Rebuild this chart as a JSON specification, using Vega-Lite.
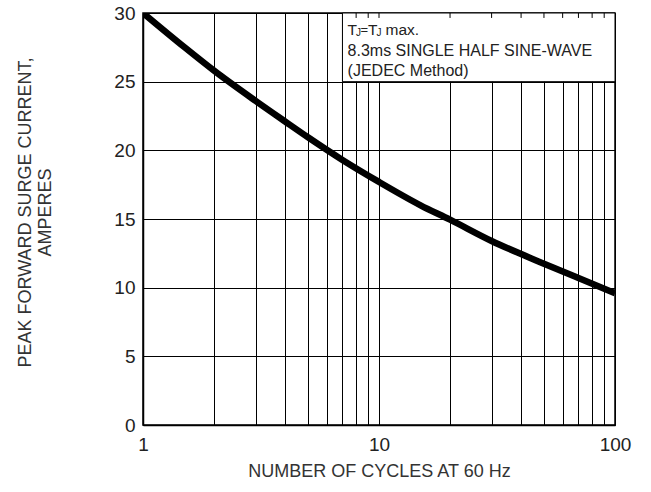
{
  "$schema": "https://vega.github.io/schema/vega-lite/v6.json",
  "width": 472,
  "height": 412,
  "autosize": {"type": "none"},
  "padding": {"left": 143, "top": 13, "right": 36, "bottom": 67},
  "background": "white",
  "config": {
    "font": "Liberation Sans",
    "view": {"stroke": "black", "strokeWidth": 1.5},
    "axis": {
      "domainColor": "black",
      "domainWidth": 1.5,
      "gridColor": "black",
      "gridWidth": 1,
      "gridOpacity": 1,
      "ticks": false,
      "labelFont": "Liberation Sans",
      "labelFontSize": 19,
      "labelColor": "#222",
      "titleFont": "Liberation Sans",
      "titleFontSize": 18,
      "titleFontWeight": "normal",
      "titleColor": "#333"
    }
  },
  "datasets": {
    "curve": [
      {"cycles": 1, "amps": 30},
      {"cycles": 1.5, "amps": 27.5},
      {"cycles": 2, "amps": 25.8},
      {"cycles": 3, "amps": 23.6},
      {"cycles": 4, "amps": 22.1},
      {"cycles": 5, "amps": 20.95},
      {"cycles": 7, "amps": 19.3},
      {"cycles": 10, "amps": 17.7},
      {"cycles": 15, "amps": 16.0},
      {"cycles": 20, "amps": 14.95},
      {"cycles": 30, "amps": 13.4},
      {"cycles": 50, "amps": 11.75},
      {"cycles": 70, "amps": 10.7},
      {"cycles": 100, "amps": 9.6}
    ],
    "box": [{"x1": 7, "x2": 100, "y1": 25, "y2": 30}],
    "boxticks": [
      {"x": 8, "y1": 29.64, "y2": 30}, {"x": 9, "y1": 29.64, "y2": 30}, {"x": 10, "y1": 29.64, "y2": 30},
      {"x": 20, "y1": 29.64, "y2": 30}, {"x": 30, "y1": 29.64, "y2": 30}, {"x": 40, "y1": 29.64, "y2": 30},
      {"x": 50, "y1": 29.64, "y2": 30}, {"x": 60, "y1": 29.64, "y2": 30}, {"x": 70, "y1": 29.64, "y2": 30},
      {"x": 80, "y1": 29.64, "y2": 30}, {"x": 90, "y1": 29.64, "y2": 30}
    ],
    "notes": [
      {"piece": "T1", "label": "T", "x": 7.36, "y": 28.73},
      {"piece": "J1", "label": "J", "x": 7.36, "y": 28.73},
      {"piece": "EQ", "label": "=", "x": 7.36, "y": 28.73},
      {"piece": "T2", "label": "T", "x": 7.36, "y": 28.73},
      {"piece": "J2", "label": "J", "x": 7.36, "y": 28.73},
      {"piece": "MAX", "label": "max.", "x": 7.36, "y": 28.73},
      {"piece": "L2", "label": "8.3ms SINGLE HALF SINE-WAVE", "x": 7.36, "y": 27.2},
      {"piece": "L3", "label": "(JEDEC Method)", "x": 7.36, "y": 25.75}
    ]
  },
  "encoding": {
    "x": {"type": "quantitative"},
    "y": {"type": "quantitative"}
  },
  "layer": [
    {
      "data": {"name": "curve"},
      "mark": {"type": "line", "color": "black", "strokeWidth": 6.5, "clip": true, "interpolate": "monotone"},
      "encoding": {
        "x": {
          "field": "cycles",
          "type": "quantitative",
          "scale": {"type": "log", "domain": [1, 100], "nice": false},
          "axis": {
            "values": [1, 2, 3, 4, 5, 6, 7, 8, 9, 10, 20, 30, 40, 50, 60, 70, 80, 90, 100],
            "labelExpr": "datum.value == 1 || datum.value == 10 || datum.value == 100 ? datum.label : ''",
            "labelPadding": 10,
            "labelFlush": false,
            "labelOverlap": false,
            "title": "NUMBER OF CYCLES AT 60 Hz",
            "titlePadding": 8
          }
        },
        "y": {
          "field": "amps",
          "type": "quantitative",
          "scale": {"domain": [0, 30], "nice": false, "zero": true},
          "axis": {
            "values": [0, 5, 10, 15, 20, 25, 30],
            "labelPadding": 8,
            "title": ["PEAK FORWARD SURGE CURRENT,", "AMPERES"],
            "titleLineHeight": 20,
            "titleBaseline": "top",
            "titleAlign": "center",
            "titleX": -127,
            "titleY": 199
          }
        }
      }
    },
    {
      "data": {"name": "box"},
      "mark": {"type": "rect", "fill": "white", "stroke": "black", "strokeWidth": 1},
      "encoding": {
        "x": {"field": "x1", "type": "quantitative"},
        "x2": {"field": "x2"},
        "y": {"field": "y1", "type": "quantitative"},
        "y2": {"field": "y2"}
      }
    },
    {
      "data": {"name": "boxticks"},
      "mark": {"type": "rule", "color": "black", "strokeWidth": 1},
      "encoding": {
        "x": {"field": "x", "type": "quantitative"},
        "y": {"field": "y1", "type": "quantitative"},
        "y2": {"field": "y2"}
      }
    },
    {
      "data": {"name": "notes"},
      "transform": [{"filter": "datum.piece == 'T1'"}],
      "mark": {"type": "text", "align": "left", "baseline": "middle", "fontSize": 15.5, "color": "#222"},
      "encoding": {"x": {"field": "x", "type": "quantitative"}, "y": {"field": "y", "type": "quantitative"}, "text": {"field": "label"}}
    },
    {
      "data": {"name": "notes"},
      "transform": [{"filter": "datum.piece == 'J1'"}],
      "mark": {"type": "text", "align": "left", "baseline": "middle", "fontSize": 10, "dx": 8.5, "dy": 3, "color": "#222"},
      "encoding": {"x": {"field": "x", "type": "quantitative"}, "y": {"field": "y", "type": "quantitative"}, "text": {"field": "label"}}
    },
    {
      "data": {"name": "notes"},
      "transform": [{"filter": "datum.piece == 'EQ'"}],
      "mark": {"type": "text", "align": "left", "baseline": "middle", "fontSize": 13, "dx": 13, "color": "#222"},
      "encoding": {"x": {"field": "x", "type": "quantitative"}, "y": {"field": "y", "type": "quantitative"}, "text": {"field": "label"}}
    },
    {
      "data": {"name": "notes"},
      "transform": [{"filter": "datum.piece == 'T2'"}],
      "mark": {"type": "text", "align": "left", "baseline": "middle", "fontSize": 15.5, "dx": 20.5, "color": "#222"},
      "encoding": {"x": {"field": "x", "type": "quantitative"}, "y": {"field": "y", "type": "quantitative"}, "text": {"field": "label"}}
    },
    {
      "data": {"name": "notes"},
      "transform": [{"filter": "datum.piece == 'J2'"}],
      "mark": {"type": "text", "align": "left", "baseline": "middle", "fontSize": 10, "dx": 29, "dy": 3, "color": "#222"},
      "encoding": {"x": {"field": "x", "type": "quantitative"}, "y": {"field": "y", "type": "quantitative"}, "text": {"field": "label"}}
    },
    {
      "data": {"name": "notes"},
      "transform": [{"filter": "datum.piece == 'MAX'"}],
      "mark": {"type": "text", "align": "left", "baseline": "middle", "fontSize": 15.5, "dx": 38, "color": "#222"},
      "encoding": {"x": {"field": "x", "type": "quantitative"}, "y": {"field": "y", "type": "quantitative"}, "text": {"field": "label"}}
    },
    {
      "data": {"name": "notes"},
      "transform": [{"filter": "datum.piece == 'L2' || datum.piece == 'L3'"}],
      "mark": {"type": "text", "align": "left", "baseline": "middle", "fontSize": 16, "color": "#222"},
      "encoding": {"x": {"field": "x", "type": "quantitative"}, "y": {"field": "y", "type": "quantitative"}, "text": {"field": "label"}}
    }
  ]
}
